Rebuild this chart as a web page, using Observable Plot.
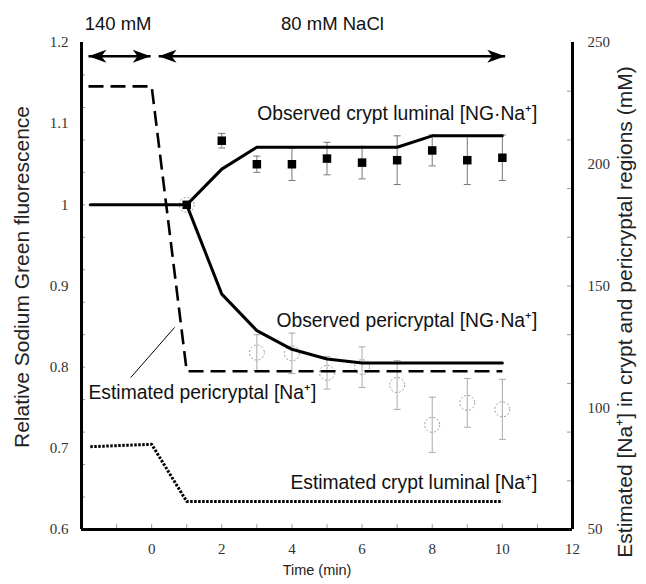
<!DOCTYPE html>
<html>
<head>
<meta charset="utf-8">
<script src="https://cdn.jsdelivr.net/npm/d3@7"></script>
<script src="https://cdn.jsdelivr.net/npm/@observablehq/plot@0.6"></script>
<style>
  html, body { margin: 0; padding: 0; background: white; }
</style>
</head>
<body>
<div id="chart"></div>
<script>
// ---------- data ----------
const xTicks = [0, 2, 4, 6, 8, 10, 12];
const leftTicks = [0.6, 0.7, 0.8, 0.9, 1.0, 1.1, 1.2];
const rightTicks = [50, 100, 150, 200, 250]; // mM

// Observed crypt luminal [NG·Na+] (model line)
const cryptLineX = [-1.75, 1, 2, 3, 7, 8, 10];
const cryptLineY = [1.0, 1.0, 1.044, 1.071, 1.071, 1.085, 1.085];
// Observed pericryptal [NG·Na+] (model line)
const periLineX = [1, 2, 3, 4, 5, 6, 10];
const periLineY = [1.0, 0.890, 0.845, 0.822, 0.810, 0.805, 0.805];

// Observed crypt luminal points (squares) with SE
const sqX = [1, 2, 3, 4, 5, 6, 7, 8, 9, 10];
const sqY = [1.0, 1.079, 1.050, 1.050, 1.057, 1.052, 1.055, 1.067, 1.055, 1.058];
const sqErr = [0, 0.009, 0.010, 0.020, 0.020, 0.020, 0.030, 0.019, 0.030, 0.028];

// Observed pericryptal points (open circles) with SE
const ciX = [1, 3, 4, 5, 6, 7, 8, 9, 10];
const ciY = [1.0, 0.818, 0.817, 0.793, 0.800, 0.778, 0.729, 0.756, 0.748];
const ciErr = [0, 0.022, 0.025, 0.020, 0.025, 0.030, 0.034, 0.030, 0.037];

// Estimated [Na+] (mM, right axis)
const estPeriX = [-1.8, 0, 1, 10];
const estPeriMM = [232, 232, 115, 115];
const estCryptX = [-1.75, 0, 1, 10];
const estCryptMM = [84, 85, 61.5, 61.5];

// protocol arrows (min)
const arrowStart = [-1.8, 0.2];
const arrowEnd = [-0.03, 10.08];
const headerText = ["140 mM", "80 mM NaCl"];

const labelText = [
  "Observed crypt luminal [NG·Na⁺]",
  "Observed pericryptal [NG·Na⁺]",
  "Estimated pericryptal [Na⁺]",
  "Estimated crypt luminal [Na⁺]"
];

// ---------- layout ----------
const layout = {
  labelX: [11.0, 11.0, -1.8, 11.0],
  labelY: [1.112, 0.857, 0.769, 0.658],
  labelAnchor: ["end", "end", "start", "end"],
  headerX: [-1.91, 3.69],
  headerY: 1.223,
  arrowY: 1.183,
  leader: {x1: -0.60, y1: 0.787, x2: 0.655, y2: 0.849}
};

// right axis (mM) <-> left axis (relative) mapping
const toL = mM => 0.6 + (mM - 50) * 0.003;
const fromL = v => 50 + (v - 0.6) / 0.003;

const zip = (xs, ys, extra = {}) => xs.map((x, i) => ({x, y: ys[i], ...Object.fromEntries(Object.entries(extra).map(([k, a]) => [k, a[i]]))}));

const cryptLine = zip(cryptLineX, cryptLineY);
const periLine = zip(periLineX, periLineY);
const squares = zip(sqX, sqY, {e: sqErr});
const circles = zip(ciX, ciY, {e: ciErr});
const estPeri = estPeriX.map((x, i) => ({x, y: toL(estPeriMM[i])}));
const estCrypt = estCryptX.map((x, i) => ({x, y: toL(estCryptMM[i])}));
const arrows = arrowStart.map((x1, i) => ({x1, x2: arrowEnd[i], y: layout.arrowY}));
const headers = headerText.map((t, i) => ({t, x: layout.headerX[i], y: layout.headerY}));
const labels = labelText.map((t, i) => ({t, x: layout.labelX[i], y: layout.labelY[i], a: layout.labelAnchor[i]}));

const stealth = {
  draw(ctx, size) {
    const k = Math.sqrt(size / Math.PI);
    ctx.moveTo(0, -2 * k);
    ctx.lineTo(k, 0.75 * k);
    ctx.lineTo(0, 0);
    ctx.lineTo(-k, 0.75 * k);
    ctx.closePath();
  }
};
const headR = 6.5;

const sans = "'Liberation Sans', Arial, sans-serif";
const capW = 0.1;

const plot = Plot.plot({
  width: 646,
  height: 584,
  marginTop: 42,
  marginRight: 74,
  marginBottom: 55,
  marginLeft: 81,
  x: {domain: [-2, 12]},
  y: {domain: [0.6, 1.2]},
  style: {fontFamily: "'Liberation Serif', 'Times New Roman', serif", fontSize: "15px", color: "#333", background: "white", overflow: "visible"},
  marks: [
    // minor inward ticks
    Plot.ruleX(d3.range(-1, 12, 1), {x: d => d, y1: 0.6, y2: 0.6 + 0.006, stroke: "#999", strokeWidth: 1}),
    Plot.ruleY(d3.range(0.64, 1.19, 0.04), {y: d => d, x1: -2, x2: -2 + 0.12, stroke: "#999", strokeWidth: 1}),
    Plot.ruleY(d3.range(70, 250, 20).map(toL), {y: d => d, x1: 12 - 0.14, x2: 12, stroke: "#999", strokeWidth: 1}),
    // axes
    Plot.axisX(xTicks, {tickSize: 0, tickPadding: 14, label: null}),
    Plot.axisY(leftTicks, {tickSize: 0, tickPadding: 13, label: null, tickFormat: d => String(+d.toFixed(1))}),
    Plot.axisY(rightTicks.map(toL), {anchor: "right", tickSize: 0, tickPadding: 15, label: null, tickFormat: v => String(Math.round(fromL(v)))}),
    Plot.ruleX([-2], {y1: 0.6, y2: 1.2, strokeWidth: 3, stroke: "black"}),
    Plot.ruleX([12], {y1: 0.6, y2: 1.2, strokeWidth: 3, stroke: "black"}),
    Plot.ruleY([0.6], {x1: -2, x2: 12, strokeWidth: 3, stroke: "black"}),
    // axis titles
    Plot.text(["Relative Sodium Green fluorescence"], {frameAnchor: "left", textAnchor: "middle", rotate: -90, dx: -59, dy: -9, fontFamily: sans, fontSize: 21, fill: "#222"}),
    Plot.text(["Estimated [Na⁺] in crypt and pericryptal regions (mM)"], {frameAnchor: "right", textAnchor: "middle", rotate: -90, dx: 53, dy: 26, fontFamily: sans, fontSize: 21, fill: "#222"}),
    Plot.text(["Time (min)"], {frameAnchor: "bottom", textAnchor: "middle", dy: 45, dx: -10, fontFamily: sans, fontSize: 14.5, fill: "#222"}),
    // error bars
    Plot.ruleX(circles.filter(d => d.e > 0), {x: "x", y1: d => d.y - d.e, y2: d => d.y + d.e, stroke: "#aaa", strokeWidth: 1}),
    Plot.link(circles.filter(d => d.e > 0), {x1: d => d.x - capW, x2: d => d.x + capW, y1: d => d.y - d.e, y2: d => d.y - d.e, stroke: "#aaa", strokeWidth: 1}),
    Plot.link(circles.filter(d => d.e > 0), {x1: d => d.x - capW, x2: d => d.x + capW, y1: d => d.y + d.e, y2: d => d.y + d.e, stroke: "#aaa", strokeWidth: 1}),
    Plot.ruleX(squares.filter(d => d.e > 0), {x: "x", y1: d => d.y - d.e, y2: d => d.y + d.e, stroke: "#777", strokeWidth: 1}),
    Plot.link(squares.filter(d => d.e > 0), {x1: d => d.x - capW, x2: d => d.x + capW, y1: d => d.y - d.e, y2: d => d.y - d.e, stroke: "#777", strokeWidth: 1}),
    Plot.link(squares.filter(d => d.e > 0), {x1: d => d.x - capW, x2: d => d.x + capW, y1: d => d.y + d.e, y2: d => d.y + d.e, stroke: "#777", strokeWidth: 1}),
    // open circles
    Plot.dot(circles, {x: "x", y: "y", r: 7.5, stroke: "#999", strokeWidth: 1, strokeDasharray: "2,2", fill: "none"}),
    // estimated lines
    Plot.line(estPeri, {x: "x", y: "y", stroke: "black", strokeWidth: 2.6, strokeDasharray: "15,7", strokeLinecap: "butt", strokeLinejoin: "miter"}),
    Plot.line(estCrypt, {x: "x", y: "y", stroke: "black", strokeWidth: 3, strokeDasharray: "2.5,1.5", strokeLinecap: "butt", strokeLinejoin: "miter"}),
    // observed model lines
    Plot.line(cryptLine, {x: "x", y: "y", stroke: "black", strokeWidth: 3}),
    Plot.line(periLine, {x: "x", y: "y", stroke: "black", strokeWidth: 3}),
    // squares
    Plot.dot(squares, {x: "x", y: "y", symbol: "square", r: 4.8, fill: "black"}),
    // leader line
    Plot.link([layout.leader], {x1: "x1", y1: "y1", x2: "x2", y2: "y2", stroke: "black", strokeWidth: 1}),
    // labels
    Plot.text(labels.filter(d => d.a === "end"), {x: "x", y: "y", text: "t", textAnchor: "end", fontFamily: sans, fontSize: 19.3, fill: "#111"}),
    Plot.text(labels.filter(d => d.a === "start"), {x: "x", y: "y", text: "t", textAnchor: "start", fontFamily: sans, fontSize: 19.3, fill: "#111"}),
    // protocol arrows
    Plot.link(arrows, {x1: "x1", x2: "x2", y1: "y", y2: "y", stroke: "black", strokeWidth: 2.5}),
    Plot.dot(arrows, {x: "x1", y: "y", symbol: stealth, r: headR, rotate: -90, dx: 2 * headR, fill: "black", stroke: "none"}),
    Plot.dot(arrows, {x: "x2", y: "y", symbol: stealth, r: headR, rotate: 90, dx: -2 * headR, fill: "black", stroke: "none"}),
    Plot.text(headers, {x: "x", y: "y", text: "t", textAnchor: "start", fontFamily: sans, fontSize: 18.5, fill: "#111"})
  ]
});
document.getElementById("chart").appendChild(plot);
</script>
</body>
</html>
